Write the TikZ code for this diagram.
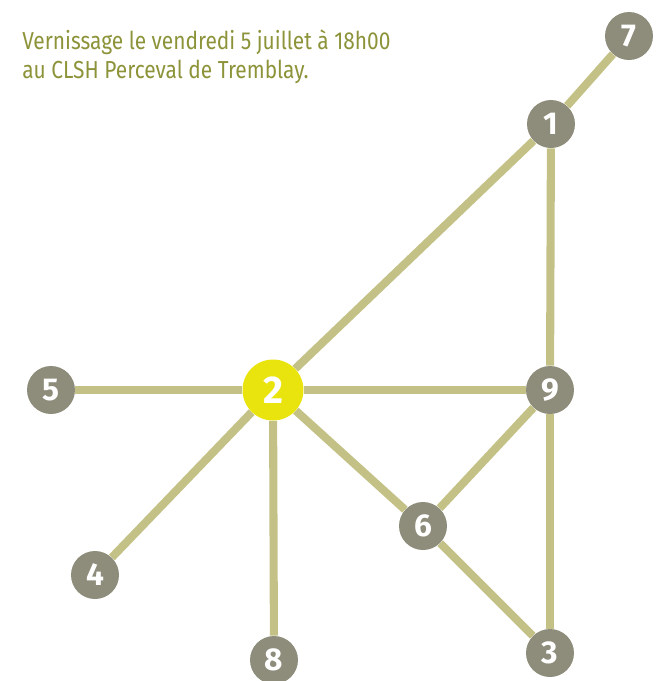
\documentclass[tikz,border=0pt]{standalone}
\usepackage{fontspec}
\setmainfont{Fira Sans}
\newfontfamily\narrowfont[FakeStretch=0.85]{Fira Sans}
\usepackage{tikz}
\usetikzlibrary{positioning}
\definecolor{lineKhaki}{HTML}{C4C187}
\definecolor{stopGray}{HTML}{8E8D7B}
\definecolor{hubYellow}{HTML}{EAE40E}
\definecolor{titleOlive}{HTML}{8C9339}

\begin{document}
\begin{tikzpicture}[x=0.02cm,y=-0.02cm,
    stop/.style={circle,fill=stopGray,minimum size=0.96cm,inner sep=0pt,
        text=white,font=\fontsize{18}{18}\selectfont\bfseries},
    hub/.style={stop,fill=hubYellow,minimum size=1.22cm,font=\fontsize{22}{22}\selectfont\bfseries},
    link/.style={lineKhaki,line width=4.6pt}]
            \useasboundingbox (0,0) rectangle (668,681);
            \node[anchor=north west,align=left,text=titleOlive,inner sep=0pt,
                font=\narrowfont\fontsize{14}{16.5}\selectfont] (title) at (22,29)
                {Vernissage le vendredi 5 juillet à 18h00\\au CLSH Perceval de Tremblay.};
            \node[stop] (n7) at (629,36) {7};
            \node[stop] (n1) at (551,124) {1};
            \node[hub] (n2) at (273,390) {2};
            \node[stop] (n9) at (550,390) {9};
            \node[stop] (n5) at (51,390) {5};
            \node[stop] (n4) at (95,575) {4};
            \node[stop] (n8) at (274,660) {8};
            \node[stop] (n6) at (423,526) {6};
            \node[stop] (n3) at (550,653) {3};
            \draw[link] (n7)--(n1);
            \draw[link] (n1)--(n2);
            \draw[link] (n1)--(n9);
            \draw[link] (n2)--(n5);
            \draw[link] (n2)--(n9);
            \draw[link] (n2)--(n4);
            \draw[link] (n2)--(n8);
            \draw[link] (n2)--(n6);
            \draw[link] (n9)--(n6);
            \draw[link] (n9)--(n3);
            \draw[link] (n6)--(n3);
        \end{tikzpicture}
\end{document}
